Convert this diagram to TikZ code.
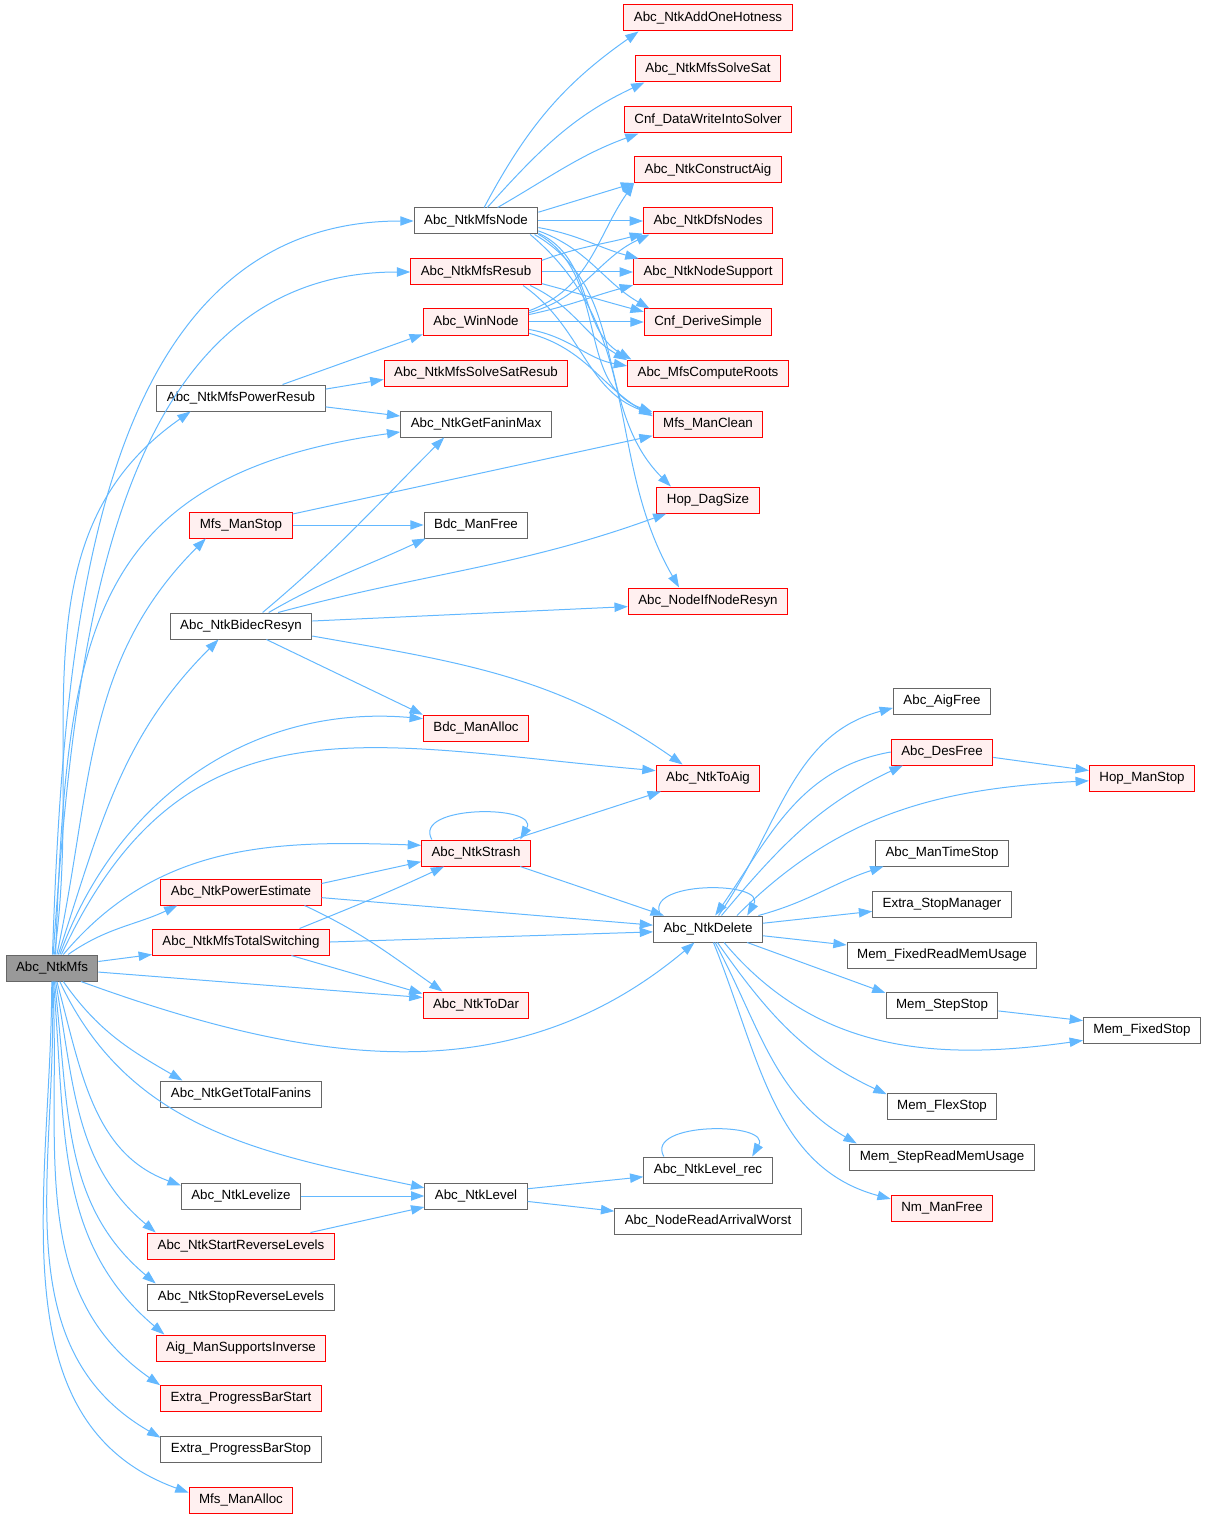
\documentclass[tikz,border=0pt]{standalone}
\usepackage{fontspec}
\setmainfont{Liberation Sans}
\usepackage{tikz}
\usetikzlibrary{arrows.meta}
\definecolor{edgeblue}{HTML}{63B8FF}
\definecolor{boxred}{HTML}{FF0000}
\definecolor{fillred}{HTML}{FFF0F0}
\definecolor{boxgray}{HTML}{666666}
\definecolor{rootfill}{HTML}{999999}

\begin{document}
\begin{tikzpicture}[x=0.75pt, y=0.75pt,
    fn/.style={draw=boxgray, fill=white, line width=0.75pt,
      minimum height=19.5pt, inner xsep=7.5pt, inner ysep=0pt,
      font=\fontsize{10}{12}\selectfont},
    fnred/.style={fn, draw=boxred, fill=fillred},
    fnroot/.style={fn, fill=rootfill},
    arr/.style={-{Triangle[length=10pt,width=7pt]}, edgeblue, line width=0.75pt}
  ]
  \useasboundingbox (0,0) rectangle (1206,-1519);

  % caller
  \node[fnroot] (mfs) at (52,-968) {Abc\_NtkMfs};

  % first column of callees
  \node[fn]    (pres)   at (241,-398)  {Abc\_NtkMfsPowerResub};
  \node[fnred] (mstop)  at (241,-525)  {Mfs\_ManStop};
  \node[fn]    (bidec)  at (241,-626)  {Abc\_NtkBidecResyn};
  \node[fnred] (pest)   at (241,-892)  {Abc\_NtkPowerEstimate};
  \node[fnred] (tsw)    at (241,-942)  {Abc\_NtkMfsTotalSwitching};
  \node[fn]    (gtf)    at (241,-1094) {Abc\_NtkGetTotalFanins};
  \node[fn]    (lvz)    at (241,-1196) {Abc\_NtkLevelize};
  \node[fnred] (srl)    at (241,-1246) {Abc\_NtkStartReverseLevels};
  \node[fn]    (stl)    at (241,-1297) {Abc\_NtkStopReverseLevels};
  \node[fnred] (asi)    at (241,-1348) {Aig\_ManSupportsInverse};
  \node[fnred] (pbs)    at (241,-1398) {Extra\_ProgressBarStart};
  \node[fn]    (pbe)    at (241,-1449) {Extra\_ProgressBarStop};
  \node[fnred] (malloc) at (241,-1500) {Mfs\_ManAlloc};

  % second column
  \node[fn]    (mnode)  at (476,-221)  {Abc\_NtkMfsNode};
  \node[fnred] (resub)  at (476,-272)  {Abc\_NtkMfsResub};
  \node[fnred] (win)    at (476,-322)  {Abc\_WinNode};
  \node[fnred] (ssr)    at (476,-373)  {Abc\_NtkMfsSolveSatResub};
  \node[fn]    (gfm)    at (476,-424)  {Abc\_NtkGetFaninMax};
  \node[fn]    (bfree)  at (476,-525)  {Bdc\_ManFree};
  \node[fnred] (balloc) at (476,-728)  {Bdc\_ManAlloc};
  \node[fnred] (strash) at (476,-853)  {Abc\_NtkStrash};
  \node[fnred] (todar)  at (476,-1005) {Abc\_NtkToDar};
  \node[fn]    (level)  at (476,-1196) {Abc\_NtkLevel};

  % third column
  \node[fnred] (aoh)    at (708,-18)   {Abc\_NtkAddOneHotness};
  \node[fnred] (solve)  at (708,-69)   {Abc\_NtkMfsSolveSat};
  \node[fnred] (cdw)    at (708,-120)  {Cnf\_DataWriteIntoSolver};
  \node[fnred] (cai)    at (708,-170)  {Abc\_NtkConstructAig};
  \node[fnred] (dfs)    at (708,-221)  {Abc\_NtkDfsNodes};
  \node[fnred] (nsup)   at (708,-272)  {Abc\_NtkNodeSupport};
  \node[fnred] (cds)    at (708,-322)  {Cnf\_DeriveSimple};
  \node[fnred] (roots)  at (708,-373)  {Abc\_MfsComputeRoots};
  \node[fnred] (clean)  at (708,-424)  {Mfs\_ManClean};
  \node[fnred] (dag)    at (708,-500)  {Hop\_DagSize};
  \node[fnred] (ifres)  at (708,-601)  {Abc\_NodeIfNodeResyn};
  \node[fnred] (toaig)  at (708,-778)  {Abc\_NtkToAig};
  \node[fn]    (del)    at (708,-929)  {Abc\_NtkDelete};
  \node[fn]    (lrec)   at (708,-1170) {Abc\_NtkLevel\_rec};
  \node[fn]    (arrw)   at (708,-1221) {Abc\_NodeReadArrivalWorst};

  % fourth column
  \node[fn]    (aigf)   at (942,-701)  {Abc\_AigFree};
  \node[fnred] (desf)   at (942,-752)  {Abc\_DesFree};
  \node[fn]    (mts)    at (942,-853)  {Abc\_ManTimeStop};
  \node[fn]    (esm)    at (942,-904)  {Extra\_StopManager};
  \node[fn]    (fru)    at (942,-955)  {Mem\_FixedReadMemUsage};
  \node[fn]    (mss)    at (942,-1005) {Mem\_StepStop};
  \node[fn]    (fls)    at (942,-1106) {Mem\_FlexStop};
  \node[fn]    (srm)    at (942,-1157) {Mem\_StepReadMemUsage};
  \node[fnred] (nmf)    at (942,-1208) {Nm\_ManFree};

  % fifth column
  \node[fnred] (hms)    at (1142,-778)  {Hop\_ManStop};
  \node[fn]    (mfst)   at (1142,-1030) {Mem\_FixedStop};

  % calls of Abc_NtkMfs
  \draw[arr] (mfs.88) to[out=88,in=180] (mnode.west);
  \draw[arr] (mfs.85) to[out=86,in=180] (resub.west);
  \draw[arr] (mfs.80) to[out=82,in=215] (pres.195);
  \draw[arr] (mfs.75) to[out=88,in=188,looseness=1.3] (gfm.186);
  \draw[arr] (mfs.70) to[out=78,in=225] (mstop.201);
  \draw[arr] (mfs.65) to[out=72,in=225] (bidec.211);
  \draw[arr] (mfs.60) to[out=70,in=175] (balloc.170);
  \draw[arr] (mfs.55) to[out=65,in=175,looseness=1.2] (toaig.172);
  \draw[arr] (mfs.50) to[out=50,in=178] (strash.172);
  \draw[arr] (mfs.40) to[out=35,in=205] (pest.192);
  \draw[arr] (mfs.8) -- (tsw.188);
  \draw[arr] (mfs.-5) -- (todar.172);
  \draw[arr] (mfs.-25) to[out=-20,in=220] (del.225);
  \draw[arr] (mfs.-50) to[out=-55,in=150] (gtf.167);
  \draw[arr] (mfs.-60) to[out=-65,in=168] (level.171);
  \draw[arr] (mfs.-70) to[out=-75,in=160] (lvz.170);
  \draw[arr] (mfs.-75) to[out=-80,in=140] (srl.171);
  \draw[arr] (mfs.-80) to[out=-83,in=140] (stl.171);
  \draw[arr] (mfs.-84) to[out=-85,in=140] (asi.170);
  \draw[arr] (mfs.-87) to[out=-87,in=145] (pbs.171);
  \draw[arr] (mfs.-89) to[out=-88,in=150] (pbe.172);
  \draw[arr] (mfs.-91) to[out=-90,in=160] (malloc.172);

  % first column
  \draw[arr] (pres.18) -- (win.193);
  \draw[arr] (pres.6) -- (ssr.184);
  \draw[arr] (pres.-6) -- (gfm.174);
  \draw[arr] (mstop.12) -- (clean.192);
  \draw[arr] (mstop.east) -- (bfree.west);
  \draw[arr] (bidec.32) to[out=40,in=225] (gfm.203);
  \draw[arr] (bidec.26) to[out=30,in=205] (bfree.195);
  \draw[arr] (bidec.20) to[out=15,in=200] (dag.198);
  \draw[arr] (bidec.4) -- (ifres.184);
  \draw[arr] (bidec.-28) -- (balloc.166);
  \draw[arr] (bidec.-8) to[out=-10,in=145] (toaig.152);
  \draw[arr] (pest.6) -- (strash.189);
  \draw[arr] (pest.-4) -- (del.176);
  \draw[arr] (pest.-12) to[out=-25,in=145] (todar.158);
  \draw[arr] (tsw.13) to[out=22,in=205] (strash.203);
  \draw[arr] (tsw.east) -- (del.183);
  \draw[arr] (tsw.-15) -- (todar.168);
  \draw[arr] (lvz.east) -- (level.west);
  \draw[arr] (srl.11) -- (level.192);

  % second column
  \draw[arr] (mnode.59) to[out=62,in=215] (aoh.191);
  \draw[arr] (mnode.50) to[out=48,in=205] (solve.192);
  \draw[arr] (mnode.32) to[out=30,in=200] (cdw.191);
  \draw[arr] (mnode.8) -- (cai.190);
  \draw[arr] (mnode.east) -- (dfs.west);
  \draw[arr] (mnode.-6) to[out=-10,in=165] (nsup.169);
  \draw[arr] (mnode.-9) to[out=-20,in=150] (cds.167);
  \draw[arr] (mnode.-11) to[out=-25,in=150] (roots.170);
  \draw[arr] (mnode.-12) to[out=-30,in=160] (clean.168);
  \draw[arr] (mnode.-13) to[out=-30,in=135] (dag.160);
  \draw[arr] (mnode.-14) to[out=-40,in=120] (ifres.155);
  \draw[arr] (resub.10) to[out=20,in=195] (dfs.191);
  \draw[arr] (resub.east) -- (nsup.west);
  \draw[arr] (resub.-10) to[out=-15,in=165] (cds.171);
  \draw[arr] (resub.-14) to[out=-25,in=150] (roots.171);
  \draw[arr] (resub.-16) to[out=-35,in=160] (clean.170);
  \draw[arr] (win.12) to[out=20,in=235] (cai.190);
  \draw[arr] (win.10) to[out=15,in=205] (dfs.193);
  \draw[arr] (win.8) to[out=12,in=195] (nsup.190);
  \draw[arr] (win.east) -- (cds.west);
  \draw[arr] (win.-8) to[out=-10,in=170] (roots.175);
  \draw[arr] (win.-12) to[out=-15,in=150] (clean.172);
  \draw[arr] (strash.163) .. controls +(-20,35) and +(20,35) .. (strash.17);
  \draw[arr] (strash.20) -- (toaig.196);
  \draw[arr] (strash.-17) -- (del.163);
  \draw[arr] (level.8) -- (lrec.186);
  \draw[arr] (level.-6) -- (arrw.174);

  % third column
  \draw[arr] (lrec.163) .. controls +(-20,35) and +(20,35) .. (lrec.17);
  \draw[arr] (del.164) .. controls +(-20,35) and +(20,35) .. (del.19);
  \draw[arr] (del.52) to[out=55,in=195] (aigf.188);
  \draw[arr] (del.45) to[out=50,in=205] (desf.199);
  \draw[arr] (desf.west) to[out=190,in=55] (del.62);
  \draw[arr] (del.25) to[out=45,in=183] (hms.183);
  \draw[arr] (del.15) to[out=15,in=198] (mts.193);
  \draw[arr] (del.6) -- (esm.186);
  \draw[arr] (del.-7) -- (fru.174);
  \draw[arr] (del.-19) -- (mss.168);
  \draw[arr] (del.-40) to[out=-50,in=188] (mfst.190);
  \draw[arr] (del.-55) to[out=-55,in=155] (fls.168);
  \draw[arr] (del.-62) to[out=-62,in=150] (srm.171);
  \draw[arr] (del.-68) to[out=-68,in=165] (nmf.170);

  % fourth column
  \draw[arr] (desf.-6) -- (hms.172);
  \draw[arr] (mss.-6) -- (mfst.171);
\end{tikzpicture}
\end{document}
